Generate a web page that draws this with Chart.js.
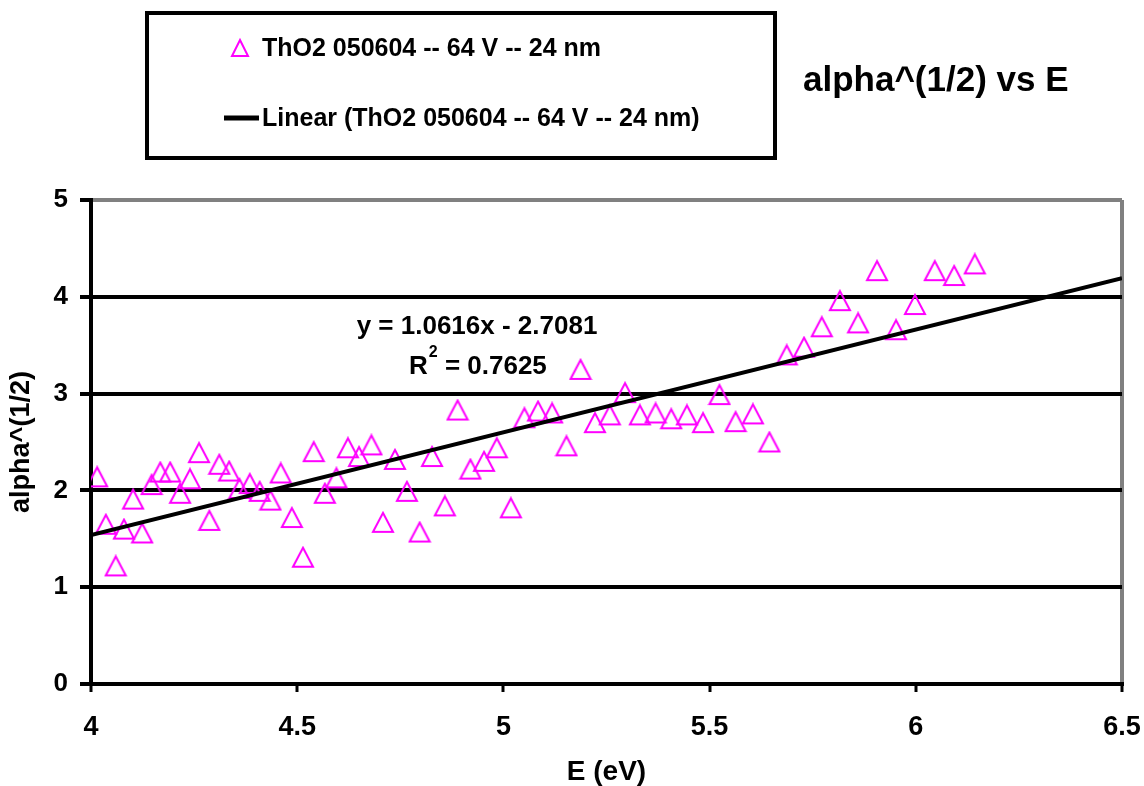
<!DOCTYPE html>
<html>
<head>
<meta charset="utf-8">
<script src="https://cdn.jsdelivr.net/npm/chart.js@4.4.1/dist/chart.umd.min.js"></script>
<style>
html,body{margin:0;padding:0;background:#fff;}
#wrap{width:1144px;height:786px;position:relative;}
</style>
</head>
<body>
<div id="wrap"><canvas id="c" width="1144" height="786"></canvas></div>
<script>
// ---- data ----
const energyValues = [4.015,4.036,4.060,4.080,4.102,4.124,4.147,4.168,4.192,4.216,4.240,4.262,4.287,4.311,4.335,4.360,4.385,4.409,4.435,4.460,4.487,4.514,4.540,4.567,4.595,4.623,4.650,4.680,4.708,4.737,4.766,4.797,4.827,4.858,4.889,4.920,4.953,4.984,5.018,5.051,5.084,5.118,5.153,5.187,5.222,5.258,5.295,5.331,5.369,5.407,5.445,5.484,5.524,5.563,5.605,5.645,5.687,5.729,5.772,5.816,5.860,5.906,5.952,5.998,6.046,6.093,6.143];
const alphaRootValues = [2.14,1.65,1.22,1.60,1.91,1.56,2.06,2.19,2.19,1.97,2.12,2.39,1.69,2.27,2.20,2.02,2.07,1.99,1.90,2.18,1.72,1.31,2.40,1.97,2.13,2.44,2.35,2.47,1.67,2.32,1.99,1.57,2.35,1.84,2.83,2.22,2.30,2.44,1.82,2.75,2.82,2.80,2.46,3.25,2.70,2.78,3.01,2.78,2.80,2.74,2.78,2.70,2.99,2.71,2.79,2.50,3.40,3.48,3.69,3.96,3.73,4.27,3.66,3.92,4.27,4.22,4.34];
const xTickLabels = ['4','4.5','5','5.5','6','6.5'];
const yTickLabels = ['0','1','2','3','4','5'];
const trendSlope = 1.0616;
const trendIntercept = -2.7081;
const trendXRange = [4, 6.5];
const seriesName = 'ThO2 050604 -- 64 V -- 24 nm';
const trendName = 'Linear (ThO2 050604 -- 64 V -- 24 nm)';
const chartTitle = 'alpha^(1/2) vs E';
const equationText = 'y = 1.0616x - 2.7081';
const r2Label = 'R';
const r2Sup = '2';
const r2Value = ' = 0.7625';
const xAxisTitle = 'E (eV)';
const yAxisTitle = 'alpha^(1/2)';

// ---- build ----
const FONT = "'Liberation Sans', Arial, sans-serif";
const MAGENTA = '#FF00FF';
const scatterPoints = energyValues.map((x, i) => ({x: x, y: alphaRootValues[i]}));
const trendPoints = trendXRange.map(x => ({x: x, y: trendSlope * x + trendIntercept}));

function makeTriangle(w, h, lw) {
  const c = document.createElement('canvas');
  const pad = 2;
  c.width = w + pad * 2; c.height = h + pad * 2;
  const g = c.getContext('2d');
  g.strokeStyle = MAGENTA; g.lineWidth = lw; g.lineJoin = 'miter';
  g.beginPath();
  g.moveTo(pad + w / 2, pad);
  g.lineTo(pad + w, pad + h);
  g.lineTo(pad, pad + h);
  g.closePath();
  g.stroke();
  return c;
}
const triImg = makeTriangle(20, 19, 2);

const overlay = {
  id: 'overlay',
  afterDraw(chart) {
    const ctx = chart.ctx;
    ctx.save();
    // legend box
    ctx.strokeStyle = '#000'; ctx.lineWidth = 4;
    ctx.strokeRect(147, 13, 628, 145);
    // legend marker
    ctx.strokeStyle = MAGENTA; ctx.lineWidth = 2;
    ctx.beginPath();
    ctx.moveTo(240, 40); ctx.lineTo(248, 56); ctx.lineTo(232, 56); ctx.closePath(); ctx.stroke();
    // legend line
    ctx.strokeStyle = '#000'; ctx.lineWidth = 5;
    ctx.beginPath(); ctx.moveTo(224, 118); ctx.lineTo(259, 118); ctx.stroke();
    ctx.fillStyle = '#000';
    ctx.textBaseline = 'middle'; ctx.textAlign = 'left';
    ctx.font = 'bold 25px ' + FONT;
    ctx.fillText(seriesName, 262, 49);
    ctx.fillText(trendName, 262, 119);
    // title
    ctx.font = 'bold 35px ' + FONT;
    ctx.fillText(chartTitle, 803, 81);
    // equation
    ctx.font = 'bold 26px ' + FONT;
    ctx.textAlign = 'center';
    ctx.fillText(equationText, 477, 327);
    ctx.textAlign = 'left';
    let x = 409;
    ctx.fillText(r2Label, x, 367);
    x += ctx.measureText(r2Label).width + 1;
    ctx.font = 'bold 16px ' + FONT;
    ctx.fillText(r2Sup, x, 353);
    x += ctx.measureText(r2Sup).width;
    ctx.font = 'bold 26px ' + FONT;
    ctx.fillText(r2Value, x, 367);
    ctx.restore();
  }
};

new Chart(document.getElementById('c'), {
  type: 'scatter',
  data: {
    datasets: [
      {
        label: trendName,
        type: 'line',
        data: trendPoints,
        borderColor: '#000',
        borderWidth: 4,
        pointRadius: 0,
        fill: false,
        order: 0
      },
      {
        label: seriesName,
        data: scatterPoints,
        pointStyle: triImg,
        pointRadius: 11,
        showLine: false,
        order: 1
      }
    ]
  },
  options: {
    responsive: false,
    devicePixelRatio: 1,
    animation: false,
    events: [],
    layout: { padding: { left: 0, top: 200, right: 22, bottom: 0 } },
    plugins: { legend: { display: false }, title: { display: false }, tooltip: { enabled: false } },
    scales: {
      x: {
        type: 'linear', min: 4, max: 6.5,
        afterFit: s => { s.height = 102; s.paddingLeft = 0; s.paddingRight = 0; },
        afterBuildTicks: s => { s.ticks = xTickLabels.map(t => ({value: parseFloat(t)})); },
        ticks: {
          color: '#000', font: { family: FONT, size: 27, weight: 'bold' }, padding: 19,
          maxRotation: 0, autoSkip: false,
          callback: (v) => xTickLabels.find(t => parseFloat(t) === v) ?? ''
        },
        grid: {
          drawOnChartArea: true,
          color: c => (c.tick && c.tick.value === 6.5) ? '#808080' : 'rgba(0,0,0,0)',
          lineWidth: 4, tickColor: '#000', tickLength: 8, tickWidth: 3
        },
        border: { display: true, color: '#000', width: 4 },
        title: { display: true, text: xAxisTitle, color: '#000', font: { family: FONT, size: 28, weight: 'bold', lineHeight: 1 }, padding: { top: 0, bottom: 0 } }
      },
      y: {
        type: 'linear', min: 0, max: 5,
        afterFit: s => { s.width = 91; s.paddingTop = 0; s.paddingBottom = 0; },
        afterBuildTicks: s => { s.ticks = yTickLabels.map(t => ({value: parseFloat(t)})); },
        ticks: {
          color: '#000', font: { family: FONT, size: 26, weight: 'bold' }, padding: 12,
          callback: (v) => yTickLabels.find(t => parseFloat(t) === v) ?? ''
        },
        grid: {
          color: c => (c.tick && c.tick.value === 5) ? '#808080' : '#000',
          lineWidth: 4, tickColor: '#000', tickLength: 11, tickWidth: 4
        },
        border: { display: true, color: '#000', width: 4 },
        title: { display: true, text: yAxisTitle, color: '#000', font: { family: FONT, size: 27, weight: 'bold', lineHeight: 1 }, padding: { top: 8, bottom: 0 } }
      }
    }
  },
  plugins: [overlay]
});
</script>
</body>
</html>
